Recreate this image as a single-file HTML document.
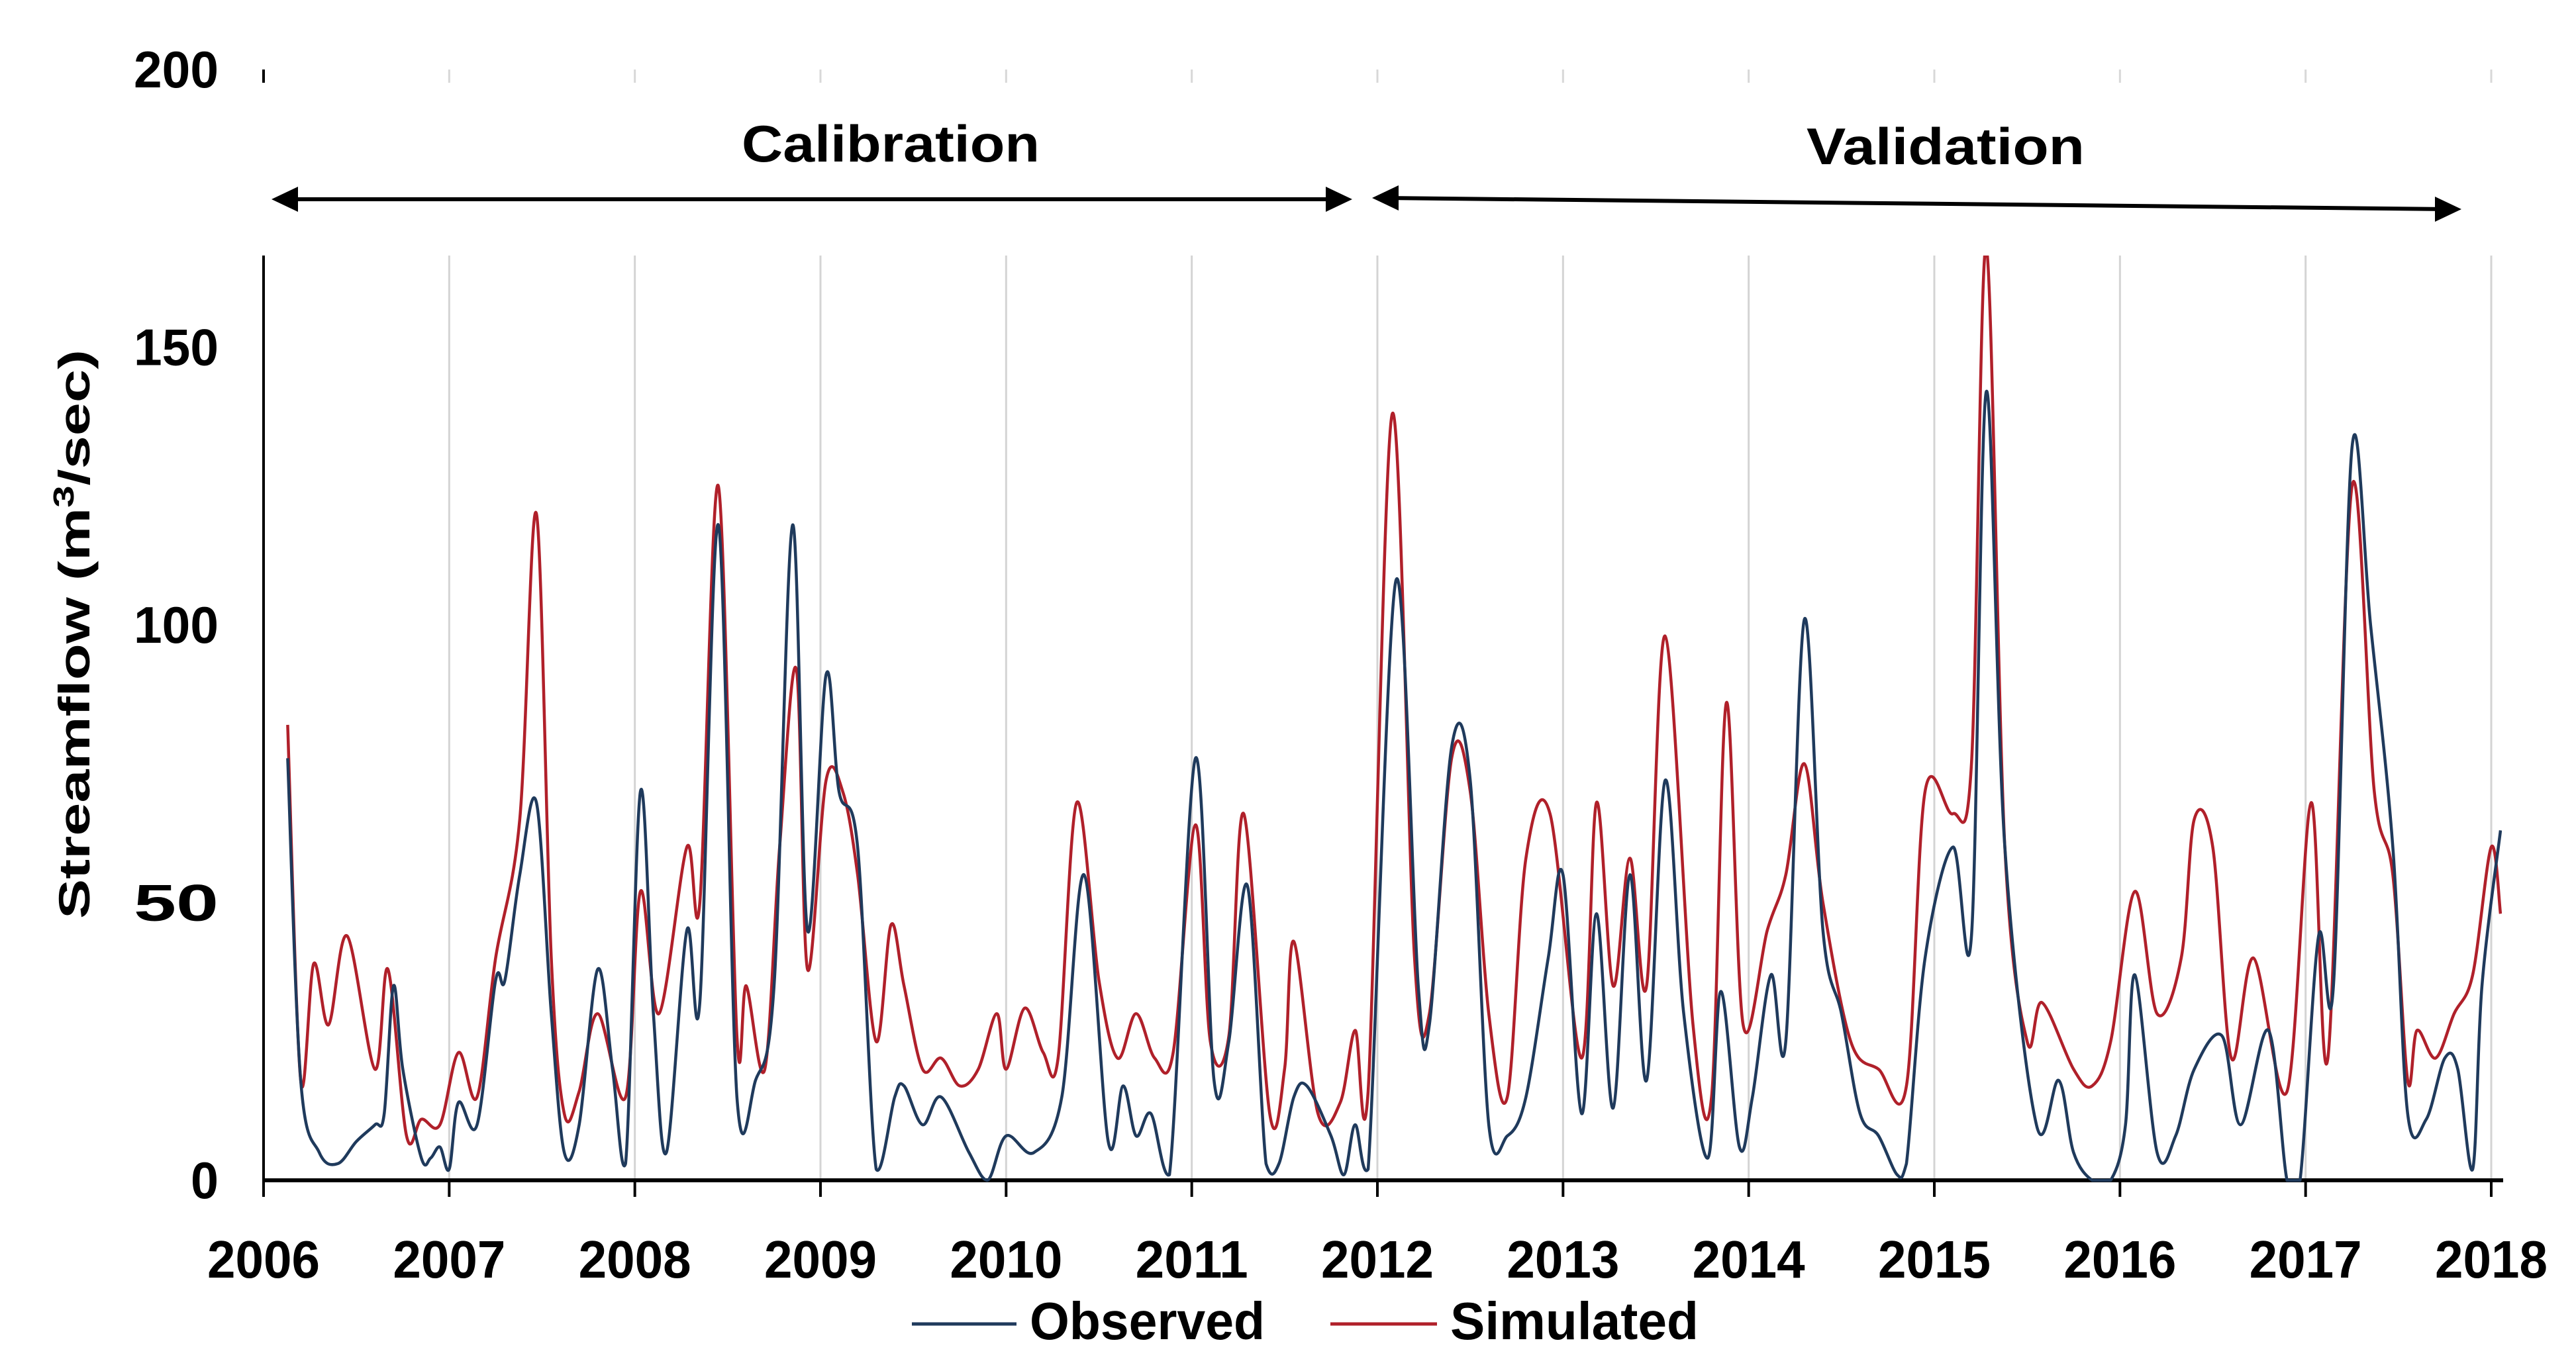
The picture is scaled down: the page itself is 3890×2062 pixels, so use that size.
<!DOCTYPE html>
<html><head><meta charset="utf-8"><style>
html,body{margin:0;padding:0;background:#fff;}
svg{display:block;}
text{font-family:"Liberation Sans Narrow","Liberation Sans",sans-serif;font-weight:bold;fill:#000;}
</style></head><body>
<svg id="chart" width="3890" height="2062" viewBox="0 0 3890 2062">
<defs><clipPath id="plotclip"><rect x="398" y="386" width="3380" height="1400"/></clipPath></defs>
<g id="grid"></g>
<g id="axes"></g>
<g id="series" clip-path="url(#plotclip)"></g>
<g>
<text x="1345" y="244" font-size="78" text-anchor="middle" textLength="450" lengthAdjust="spacingAndGlyphs">Calibration</text>
<line x1="430" y1="301" x2="2020" y2="301" stroke="#000" stroke-width="6"/>
<polygon points="410,301 450,282 450,320" fill="#000"/>
<polygon points="2042,301 2002,282 2002,320" fill="#000"/>
<text x="2938" y="248" font-size="78" text-anchor="middle" textLength="420" lengthAdjust="spacingAndGlyphs">Validation</text>
<line x1="2092" y1="299" x2="3695" y2="316" stroke="#000" stroke-width="6"/>
<polygon points="2072,299 2112,280 2112,318" fill="#000"/>
<polygon points="3717,316 3677,297 3677,335" fill="#000"/>
</g>
<text transform="translate(135,958) rotate(-90)" font-size="66" text-anchor="middle" textLength="860" lengthAdjust="spacingAndGlyphs" font-family="Liberation Sans">Streamflow (m<tspan font-size="44" dy="-24">3</tspan><tspan dy="24">/sec)</tspan></text>
<g>
<line x1="1377" y1="2000" x2="1535" y2="2000" stroke="#1f3a5c" stroke-width="5"/>
<text x="1555" y="2023" font-size="80" textLength="355" lengthAdjust="spacingAndGlyphs">Observed</text>
<line x1="2009" y1="2000" x2="2170" y2="2000" stroke="#b0202a" stroke-width="5"/>
<text x="2190" y="2023" font-size="80" textLength="375" lengthAdjust="spacingAndGlyphs">Simulated</text>
</g>
</svg>
<script>
const xTicks=[2006,2007,2008,2009,2010,2011,2012,2013,2014,2015,2016,2017,2018];
const yTicks=[0,50,100,150,200];
const obsT=[2006.13,2006.2,2006.3,2006.4,2006.5,2006.6,2006.65,2006.7,2006.75,2006.85,2006.9,2006.95,2007.0,2007.05,2007.15,2007.25,2007.3,2007.38,2007.47,2007.55,2007.62,2007.7,2007.8,2007.88,2007.95,2008.03,2008.1,2008.17,2008.28,2008.35,2008.45,2008.55,2008.65,2008.75,2008.85,2008.93,2009.03,2009.1,2009.2,2009.3,2009.4,2009.45,2009.55,2009.65,2009.8,2009.9,2010.0,2010.15,2010.3,2010.42,2010.55,2010.63,2010.7,2010.78,2010.88,2011.02,2011.12,2011.2,2011.3,2011.4,2011.47,2011.55,2011.62,2011.75,2011.82,2011.88,2011.95,2012.1,2012.22,2012.28,2012.4,2012.5,2012.6,2012.7,2012.8,2012.92,2013.0,2013.1,2013.18,2013.27,2013.36,2013.45,2013.55,2013.65,2013.78,2013.85,2013.95,2014.02,2014.12,2014.2,2014.3,2014.4,2014.5,2014.6,2014.7,2014.8,2014.85,2014.95,2015.1,2015.2,2015.28,2015.38,2015.55,2015.67,2015.75,2015.85,2015.95,2016.03,2016.08,2016.2,2016.3,2016.4,2016.55,2016.65,2016.8,2016.9,2016.97,2017.07,2017.15,2017.25,2017.35,2017.47,2017.55,2017.65,2017.75,2017.82,2017.9,2017.95,2018.05];
const obsV=[76,18,5,3,7,10,12,35,20,4,4,6,2,14,10,36,36,55,68,30,5,10,38,20,3,70,30,5,45,32,118,15,18,35,118,45,91,70,60,2,15,17,10,15,5,0,8,5,15,55,7,17,8,12,1,76,18,25,53,3,3,15,17,8,1,10,2,108,35,28,78,72,10,8,15,40,55,12,48,13,55,18,72,30,4,34,6,15,37,25,101,45,30,12,8,1,3,40,60,44,142,60,10,18,5,0,0,10,37,5,8,20,26,10,27,0,0,44,35,132,100,60,12,11,22,20,2,35,63];
const simT=[2006.13,2006.2,2006.27,2006.35,2006.45,2006.6,2006.67,2006.77,2006.85,2006.95,2007.05,2007.15,2007.25,2007.38,2007.47,2007.55,2007.62,2007.7,2007.8,2007.95,2008.03,2008.13,2008.28,2008.35,2008.45,2008.55,2008.6,2008.7,2008.78,2008.87,2008.93,2009.03,2009.12,2009.2,2009.3,2009.38,2009.45,2009.55,2009.65,2009.75,2009.85,2009.95,2010.0,2010.1,2010.2,2010.28,2010.38,2010.5,2010.6,2010.7,2010.8,2010.9,2011.02,2011.1,2011.2,2011.28,2011.42,2011.5,2011.55,2011.68,2011.8,2011.88,2011.95,2012.08,2012.2,2012.28,2012.4,2012.5,2012.6,2012.7,2012.8,2012.93,2013.1,2013.18,2013.27,2013.36,2013.45,2013.55,2013.7,2013.8,2013.88,2013.97,2014.1,2014.2,2014.3,2014.4,2014.55,2014.7,2014.85,2014.95,2015.1,2015.2,2015.28,2015.38,2015.5,2015.58,2015.75,2015.85,2015.95,2016.08,2016.2,2016.33,2016.4,2016.5,2016.6,2016.72,2016.9,2017.03,2017.12,2017.25,2017.37,2017.47,2017.55,2017.6,2017.7,2017.8,2017.9,2018.0,2018.05];
const simV=[82,18,39,28,44,20,38,8,11,10,23,15,40,65,120,40,12,16,30,15,52,30,60,50,125,26,35,20,60,92,38,72,70,55,25,46,35,20,22,17,20,30,20,31,23,22,68,36,22,30,22,23,64,25,26,66,12,20,43,12,14,27,16,138,40,30,76,70,30,15,58,66,22,68,35,58,35,98,28,15,86,28,45,55,75,50,25,20,17,70,66,75,168,60,25,32,20,17,25,52,30,40,65,60,22,40,16,68,22,125,70,55,18,27,22,30,37,60,48];

const NS='http://www.w3.org/2000/svg';
const X0=398,X1=3762,Y0=1783,YPER=8.39;
function sx(t){return X0+(t-2006)*(X1-X0)/12;}
function sy(v){return Y0-v*YPER;}
function mk(tag,attrs,parent){const e=document.createElementNS(NS,tag);for(const k in attrs)e.setAttribute(k,attrs[k]);parent.appendChild(e);return e;}
const grid=document.getElementById('grid'),axes=document.getElementById('axes'),series=document.getElementById('series');
xTicks.forEach(function(t,i){
  if(i>0){const g=mk('line',{x1:sx(t),x2:sx(t),y1:386,y2:Y0,stroke:'#d4d4d4','stroke-width':3},grid);
  
  
  const f=mk('line',{x1:sx(t),x2:sx(t),y1:105,y2:125,stroke:'#d8d8d8','stroke-width':3},grid);
  
  }
  const tk=mk('line',{x1:sx(t),x2:sx(t),y1:Y0,y2:Y0+25,stroke:'#000','stroke-width':4},axes);
  
  
  const lb=mk('text',{x:sx(t),y:1930,'font-size':80,'text-anchor':'middle',textLength:170,lengthAdjust:'spacingAndGlyphs'},axes);
  lb.textContent=t;
  
  
});
yTicks.forEach(function(v){
  const lb=mk('text',{x:330,y:sy(v)+27,'font-size':78,'text-anchor':'end',textLength:v<10?42:128,lengthAdjust:'spacingAndGlyphs'},axes);
  lb.textContent=v;
  
  
});
const ya=mk('line',{x1:X0,x2:X0,y1:386,y2:Y0+25,stroke:'#000','stroke-width':4},axes);


const yt=mk('line',{x1:X0,x2:X0,y1:105,y2:125,stroke:'#000','stroke-width':4},axes);


const xa=mk('line',{x1:X0,x2:3780,y1:Y0,y2:Y0,stroke:'#000','stroke-width':6},axes);


function path(T,V){
  const p=T.map(function(t,i){return [sx(t),sy(V[i])];});
  let d='M'+p[0][0].toFixed(1)+','+p[0][1].toFixed(1);
  for(let i=0;i<p.length-1;i++){
    const a=p[Math.max(0,i-1)],b=p[i],c=p[i+1],e=p[Math.min(p.length-1,i+2)];
    const c1=[b[0]+(c[0]-a[0])/6,Math.min(Y0,b[1]+(c[1]-a[1])/6)],c2=[c[0]-(e[0]-b[0])/6,Math.min(Y0,c[1]-(e[1]-b[1])/6)];
    d+=' C'+c1[0].toFixed(1)+','+c1[1].toFixed(1)+' '+c2[0].toFixed(1)+','+c2[1].toFixed(1)+' '+c[0].toFixed(1)+','+c[1].toFixed(1);
  }
  return d;
}
const sim=mk('path',{d:path(simT,simV),fill:'none',stroke:'#b0202a','stroke-width':4.5,'stroke-linejoin':'round'},series);


const obs=mk('path',{d:path(obsT,obsV),fill:'none',stroke:'#1f3a5c','stroke-width':4.5,'stroke-linejoin':'round'},series);


</script>
</body></html>
